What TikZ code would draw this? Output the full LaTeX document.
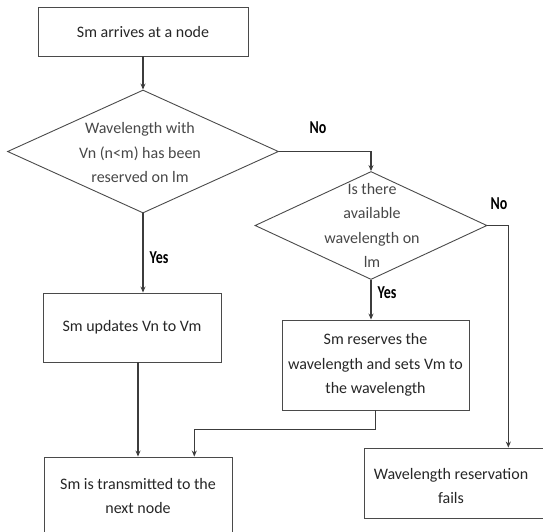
\documentclass[tikz,border=0pt]{standalone}
\usepackage{fontspec}
\setmainfont{Carlito}
\usetikzlibrary{shapes.geometric,arrows.meta,calc}
\definecolor{linecol}{HTML}{3C3C3C}
\definecolor{boxcol}{HTML}{4A4A4A}
\definecolor{txtcol}{HTML}{262626}
\begin{document}
\begin{tikzpicture}[x=1pt,y=-1pt,
  proc/.style={draw=boxcol, line width=0.9pt, rectangle, inner sep=0pt,
    font=\fontsize{16}{24.5}\selectfont, text=txtcol, align=center},
  plaintext/.style={font=\fontsize{16}{24.5}\selectfont, text=txtcol, align=center, inner sep=0pt},
  dec/.style={draw=boxcol, line width=0.9pt, diamond, inner sep=0pt},
  dectext/.style={plaintext, text=txtcol!85},
  flow/.style={draw=linecol, line width=1.2pt, -{Stealth[length=6pt,width=5pt]}},
  lbl/.style={font=\bfseries\fontsize{14}{14}\selectfont, text=black, inner sep=0pt}]
\useasboundingbox (0,0) rectangle (543,531);

% process boxes
\node[proc, minimum width=210pt, minimum height=49pt] (b1) at (143,31.5) {Sm arrives at a node};
\node[proc, minimum width=178pt, minimum height=69pt] (b2) at (132,327.5) {Sm updates Vn to Vm};
\node[proc, minimum width=187pt, minimum height=90pt] (b3) at (375.5,365)
  {Sm reserves the\\wavelength and sets Vm to\\the wavelength};
\node[proc, minimum width=184pt, minimum height=70pt] (b4) at (456,483) {};
\node[plaintext] (b4t) at (451,486) {Wavelength reservation\\fails};
\node[proc, minimum width=188pt, minimum height=78pt] (b5) at (138,496)
  {Sm is transmitted to the\\next node};

% decisions
\node[dec, minimum width=271pt, minimum height=123pt] (d1) at (143,151.5) {};
\node[dectext] (d1t) at (140,152.5) {Wavelength with\\Vn (n<m) has been\\reserved on lm};
\node[dec, minimum width=232pt, minimum height=108pt] (d2) at (371,225.5) {};
\node[dectext] (d2t) at (372,225.5) {Is there\\available\\wavelength on\\lm};

% connectors
\draw[flow] (b1.south) -- (d1.north);
\draw[flow] (d1.south) -- (d1.south |- b2.north);
\draw[flow] (d1.east) -| (d2.north);
\coordinate (b4in) at ($(b4.north west)!0.783!(b4.north east)$);
\draw[flow] (d2.east) -| (b4in);
\draw[flow] (d2.south) -- (d2.south |- b3.north);
\coordinate (b5in) at ($(b5.north west)!0.798!(b5.north east)$);
\draw[flow] (b3.south) -- ++(0,19) -| (b5in);
\draw[flow] (b5.north |- b2.south) -- (b5.north);

% branch labels
\node[lbl] (no1) at (318,128) {\scalebox{1}[1.3]{No}};
\node[lbl] (no2) at (499,204) {\scalebox{1}[1.3]{No}};
\node[lbl] (yes1) at (159,258) {\scalebox{1}[1.3]{Yes}};
\node[lbl] (yes2) at (387,293) {\scalebox{1}[1.3]{Yes}};
\end{tikzpicture}
\end{document}
